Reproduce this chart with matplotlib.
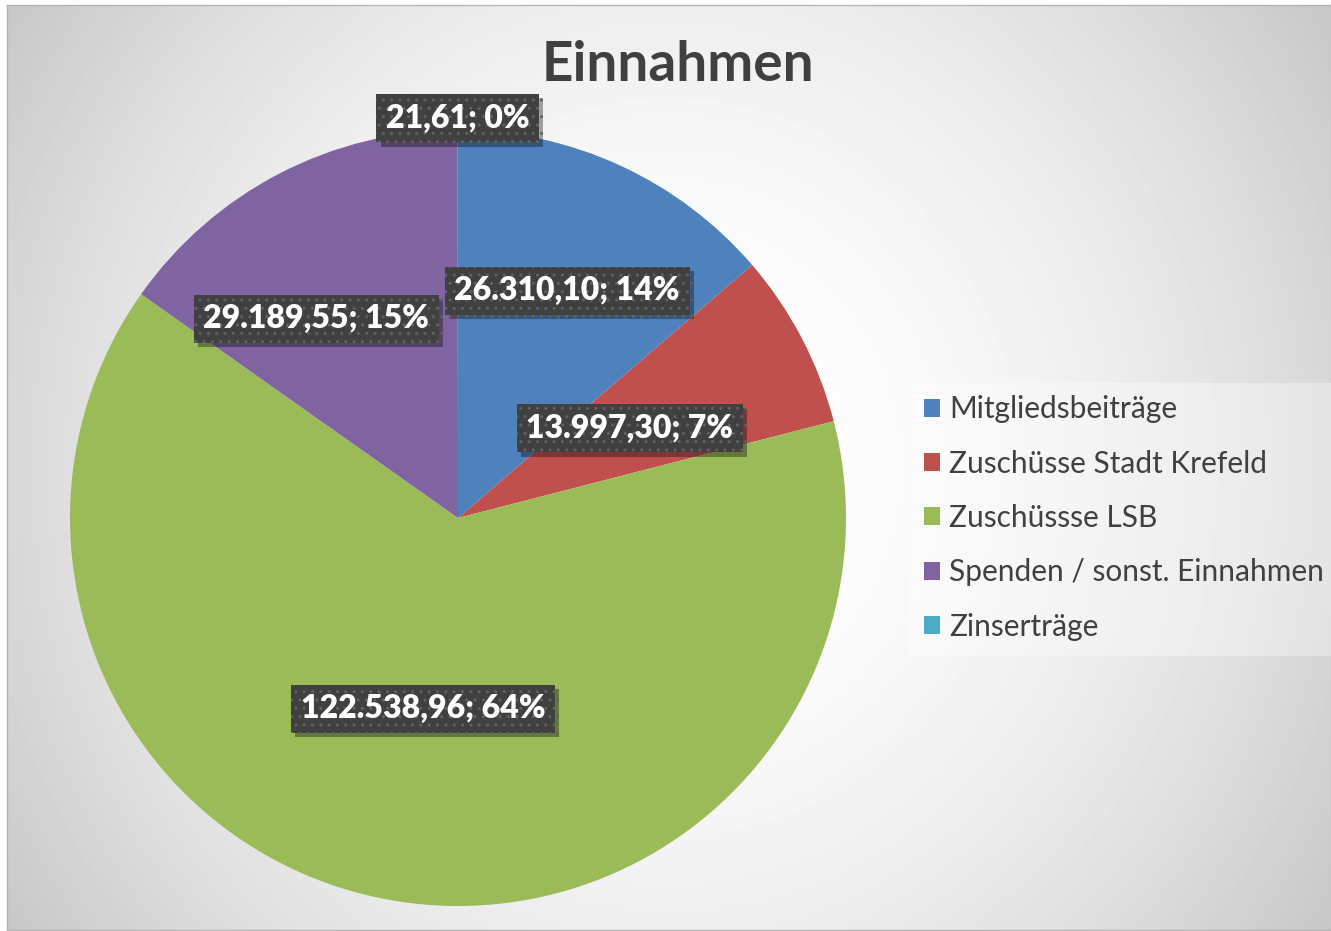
import matplotlib
matplotlib.use("Agg")
import matplotlib.pyplot as plt
import matplotlib.patheffects as pe
from matplotlib.patches import Rectangle
import numpy as np

plt.rcParams["font.family"] = ["Lato", "DejaVu Sans"]

# data
categories = ["Mitgliedsbeiträge", "Zuschüsse Stadt Krefeld", "Zuschüssse LSB",
              "Spenden / sonst. Einnahmen", "Zinserträge"]
values = [26310.10, 13997.30, 122538.96, 29189.55, 21.61]
colors = ["#4F81BD", "#C0504D", "#9BBB59", "#8064A2", "#4BACC6"]

# label placement (radius fraction, angle nudge in degrees)
label_r = [0.65, 0.5, 0.5, 0.63, 1.03]
label_nudge = [-1, 0, 0, 8, 0]


def de_format(v):
    s = f"{v:,.2f}"
    return s.replace(",", "X").replace(".", ",").replace("X", ".")


W, H = 1331, 931
fig = plt.figure(figsize=(W / 100, H / 100), dpi=100, facecolor="white")

# chart area with radial gradient
bg = fig.add_axes([7 / W, 1 / H, 1324 / W, 925 / H])
u = np.linspace(-1, 1, 400)
v = np.linspace(-1, 1, 300)
U, V = np.meshgrid(u, v)
shade = np.clip(1 - 0.153 * U**2 - 0.067 * V**2, 0.76, 1)
bg.imshow(shade, cmap="gray", vmin=0, vmax=1, extent=(0, 1, 0, 1), aspect="auto")
bg.set_xticks([])
bg.set_yticks([])
for s in bg.spines.values():
    s.set_color("#b5b5b5")
    s.set_linewidth(1)

# pie
cx, cy, rad = 458, 931 - 518, 388
ax = fig.add_axes([(cx - rad) / W, (cy - rad) / H, 2 * rad / W, 2 * rad / H])
wedges, _ = ax.pie(values, colors=colors, startangle=90, counterclock=False,
                   radius=1, wedgeprops=dict(linewidth=0))
ax.set_xlim(-1, 1)
ax.set_ylim(-1, 1)
ax.axis("off")

total = sum(values)
for w, val, r, dn in zip(wedges, values, label_r, label_nudge):
    ang = np.deg2rad((w.theta1 + w.theta2) / 2 + dn)
    txt = f"{de_format(val)}; {val / total * 100:.0f}%"
    t = ax.text(r * np.cos(ang), r * np.sin(ang), txt, ha="center", va="center",
                fontsize=23, fontweight="heavy", color="white", clip_on=False,
                bbox=dict(boxstyle="square,pad=0.3", facecolor="#404040",
                          edgecolor="#616161", linewidth=0, hatch=".."))
    t.get_bbox_patch().set_path_effects([
        pe.SimplePatchShadow(offset=(3, -3), shadow_rgbFace="black", alpha=0.35),
        pe.Normal()])

# title
fig.text(678 / W, 1 - 65 / H, "Einnahmen", ha="center", va="center",
         fontsize=39.5, fontweight="bold", color="#404040")

# legend background + legend
fig.patches.append(Rectangle((908 / W, 1 - 656 / H), (1331 - 908) / W, (656 - 383) / H,
                             transform=fig.transFigure, facecolor="white",
                             alpha=0.35, edgecolor="none", zorder=1))
leg = fig.legend(wedges, categories, loc="center left",
                 bbox_to_anchor=(924 / W, 1 - 518 / H), frameon=False,
                 fontsize=21.5, borderpad=0, borderaxespad=0,
                 handlelength=0.55, handleheight=0.55, handletextpad=0.3,
                 labelspacing=0.88, labelcolor="#404040")

fig.savefig("out.png", dpi=100, facecolor="white")
